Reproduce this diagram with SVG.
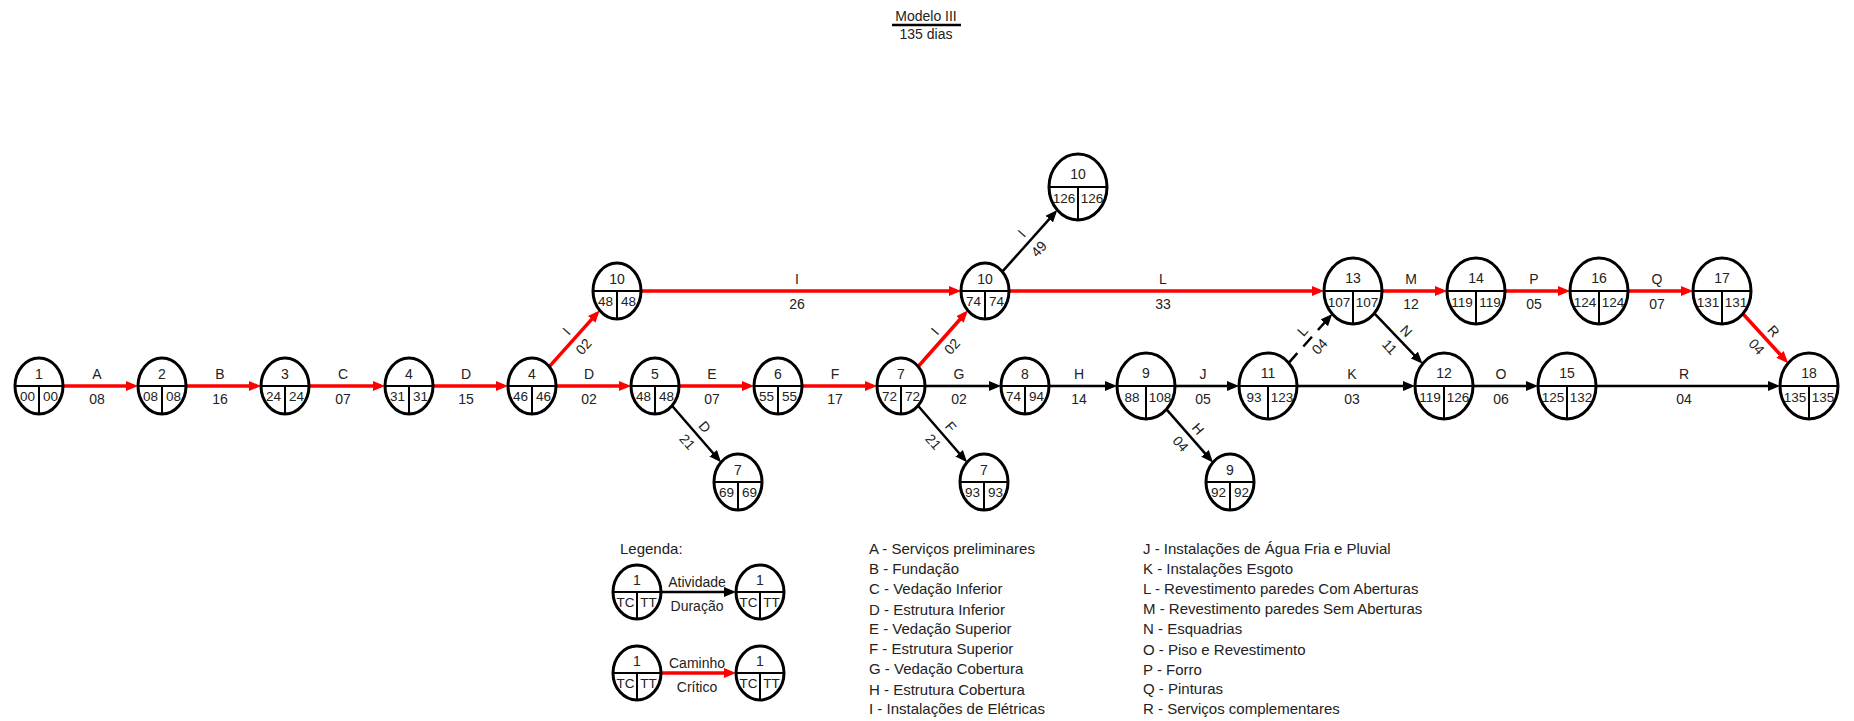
<svg xmlns="http://www.w3.org/2000/svg" width="1854" height="721" viewBox="0 0 1854 721">
  <defs>
    <style>
      text { font-family: "Liberation Sans", Arial, sans-serif; fill: #222; }
      .node ellipse { fill: #fff; stroke: #000; stroke-width: 3; }
      .node line { stroke: #000; stroke-width: 2; }
      .node .id { font-size: 14px; text-anchor: middle; }
      .node .tt { font-size: 13.5px; text-anchor: middle; }
      .red { stroke: #ff0000; stroke-width: 3.5; fill: none; marker-end: url(#arR); }
      .blk { stroke: #000; stroke-width: 2.5; fill: none; marker-end: url(#arK); }
      .dash { stroke-dasharray: 13 9; }
      .lbl { font-size: 14px; text-anchor: middle; }
      .leg { font-size: 15px; }
      .title { font-size: 14px; text-anchor: middle; }
    </style>
    <marker id="arR" viewBox="0 0 12 10" markerUnits="userSpaceOnUse" markerWidth="12" markerHeight="10" refX="8" refY="5" orient="auto">
      <path d="M0,0 L12,5 L0,10 z" fill="#ff0000"/>
    </marker>
    <marker id="arK" viewBox="0 0 12 10" markerUnits="userSpaceOnUse" markerWidth="12" markerHeight="10" refX="8" refY="5" orient="auto">
      <path d="M0,0 L12,5 L0,10 z" fill="#000"/>
    </marker>
  </defs>

  <rect width="1854" height="721" fill="#fff"/>

  <!-- heading -->
  <g id="title">
    <text class="title" x="926" y="21">Modelo III</text>
    <line x1="892" y1="25" x2="961" y2="25" stroke="#000" stroke-width="2.5"/>
    <text class="title" x="926" y="39">135 dias</text>
  </g>

  <!-- activity arrows -->
  <g id="connectors">
    <!-- main row, y = 386 -->
    <path class="red" d="M63,386 H134"/>
    <path class="red" d="M186,386 H257"/>
    <path class="red" d="M309,386 H381"/>
    <path class="red" d="M433,386 H504"/>
    <path class="red" d="M556,386 H627"/>
    <path class="red" d="M679,386 H750"/>
    <path class="red" d="M802,386 H873"/>
    <path class="blk" d="M925,386 H997"/>
    <path class="blk" d="M1049,386 H1113"/>
    <path class="blk" d="M1175,386 H1235"/>
    <path class="blk" d="M1297,386 H1411"/>
    <path class="blk" d="M1473,386 H1534"/>
    <path class="blk" d="M1596,386 H1776"/>
    <!-- upper row, y = 291 -->
    <path class="red" d="M641,291 H957"/>
    <path class="red" d="M1009,291 H1320"/>
    <path class="red" d="M1382,291 H1443"/>
    <path class="red" d="M1505,291 H1566"/>
    <path class="red" d="M1628,291 H1689"/>
    <!-- diagonals -->
    <path class="red" d="M549.3,366.6 L597.0,313.4"/>
    <path class="blk" d="M672,405.7 L718.4,459.3"/>
    <path class="red" d="M918.2,366.5 L965.2,313.5"/>
    <path class="blk" d="M918,405.7 L964.4,459.3"/>
    <path class="blk" d="M1166.5,409.4 L1210.3,459.4"/>
    <path class="blk" d="M1002.3,271.6 L1054.6,213.1"/>
    <path class="blk dash" d="M1288.7,362.9 L1329.6,316.9"/>
    <path class="blk" d="M1374.4,313.3 L1419.8,360.8"/>
    <path class="red" d="M1742.9,313.8 L1785.4,360.2"/>

    <!-- labels: activity above, duration below -->
    <g class="lbl">
      <text x="97" y="379">A</text><text x="97" y="404">08</text>
      <text x="220" y="379">B</text><text x="220" y="404">16</text>
      <text x="343" y="379">C</text><text x="343" y="404">07</text>
      <text x="466" y="379">D</text><text x="466" y="404">15</text>
      <text x="589" y="379">D</text><text x="589" y="404">02</text>
      <text x="712" y="379">E</text><text x="712" y="404">07</text>
      <text x="835" y="379">F</text><text x="835" y="404">17</text>
      <text x="959" y="379">G</text><text x="959" y="404">02</text>
      <text x="1079" y="379">H</text><text x="1079" y="404">14</text>
      <text x="1203" y="379">J</text><text x="1203" y="404">05</text>
      <text x="1352" y="379">K</text><text x="1352" y="404">03</text>
      <text x="1501" y="379">O</text><text x="1501" y="404">06</text>
      <text x="1684" y="379">R</text><text x="1684" y="404">04</text>

      <text x="797" y="284">I</text><text x="797" y="309">26</text>
      <text x="1163" y="284">L</text><text x="1163" y="309">33</text>
      <text x="1411" y="284">M</text><text x="1411" y="309">12</text>
      <text x="1534" y="284">P</text><text x="1534" y="309">05</text>
      <text x="1657" y="284">Q</text><text x="1657" y="309">07</text>

      <g transform="translate(574.5,338.5) rotate(-48.2)"><text x="0" y="-6">I</text><text x="0" y="17">02</text></g>
      <g transform="translate(696.5,434) rotate(49.2)"><text x="0" y="-6">D</text><text x="0" y="17">21</text></g>
      <g transform="translate(943,338.5) rotate(-48.5)"><text x="0" y="-6">I</text><text x="0" y="17">02</text></g>
      <g transform="translate(942.5,434) rotate(49.2)"><text x="0" y="-6">F</text><text x="0" y="17">21</text></g>
      <g transform="translate(1189.7,435.9) rotate(48.8)"><text x="0" y="-6">H</text><text x="0" y="17">04</text></g>
      <g transform="translate(1029.8,240.9) rotate(-48.2)"><text x="0" y="-6">I</text><text x="0" y="17">49</text></g>
      <g transform="translate(1310.5,338.4) rotate(-48.2)"><text x="0" y="-6">L</text><text x="0" y="17">04</text></g>
      <g transform="translate(1398.5,338.5) rotate(46.2)"><text x="0" y="-6">N</text><text x="0" y="17">11</text></g>
      <g transform="translate(1765.5,338.5) rotate(47.5)"><text x="0" y="-6">R</text><text x="0" y="17">04</text></g>
    </g>
  </g>

  <!-- events: number on top, TC | TT below -->
  <g id="n1" class="node" transform="translate(39,386)"><ellipse rx="24" ry="28"/><line x1="-24" y1="0" x2="24" y2="0"/><line x1="0" y1="0" x2="0" y2="28"/><text class="id" y="-7">1</text><text class="tt" x="-11.5" y="15">00</text><text class="tt" x="11.5" y="15">00</text></g>
  <g id="n2" class="node" transform="translate(162,386)"><ellipse rx="24" ry="28"/><line x1="-24" y1="0" x2="24" y2="0"/><line x1="0" y1="0" x2="0" y2="28"/><text class="id" y="-7">2</text><text class="tt" x="-11.5" y="15">08</text><text class="tt" x="11.5" y="15">08</text></g>
  <g id="n3" class="node" transform="translate(285,386)"><ellipse rx="24" ry="28"/><line x1="-24" y1="0" x2="24" y2="0"/><line x1="0" y1="0" x2="0" y2="28"/><text class="id" y="-7">3</text><text class="tt" x="-11.5" y="15">24</text><text class="tt" x="11.5" y="15">24</text></g>
  <g id="n4" class="node" transform="translate(409,386)"><ellipse rx="24" ry="28"/><line x1="-24" y1="0" x2="24" y2="0"/><line x1="0" y1="0" x2="0" y2="28"/><text class="id" y="-7">4</text><text class="tt" x="-11.5" y="15">31</text><text class="tt" x="11.5" y="15">31</text></g>
  <g id="n4b" class="node" transform="translate(532,386)"><ellipse rx="24" ry="28"/><line x1="-24" y1="0" x2="24" y2="0"/><line x1="0" y1="0" x2="0" y2="28"/><text class="id" y="-7">4</text><text class="tt" x="-11.5" y="15">46</text><text class="tt" x="11.5" y="15">46</text></g>
  <g id="n5" class="node" transform="translate(655,386)"><ellipse rx="24" ry="28"/><line x1="-24" y1="0" x2="24" y2="0"/><line x1="0" y1="0" x2="0" y2="28"/><text class="id" y="-7">5</text><text class="tt" x="-11.5" y="15">48</text><text class="tt" x="11.5" y="15">48</text></g>
  <g id="n6" class="node" transform="translate(778,386)"><ellipse rx="24" ry="28"/><line x1="-24" y1="0" x2="24" y2="0"/><line x1="0" y1="0" x2="0" y2="28"/><text class="id" y="-7">6</text><text class="tt" x="-11.5" y="15">55</text><text class="tt" x="11.5" y="15">55</text></g>
  <g id="n7" class="node" transform="translate(901,386)"><ellipse rx="24" ry="28"/><line x1="-24" y1="0" x2="24" y2="0"/><line x1="0" y1="0" x2="0" y2="28"/><text class="id" y="-7">7</text><text class="tt" x="-11.5" y="15">72</text><text class="tt" x="11.5" y="15">72</text></g>
  <g id="n8" class="node" transform="translate(1025,386)"><ellipse rx="24" ry="28"/><line x1="-24" y1="0" x2="24" y2="0"/><line x1="0" y1="0" x2="0" y2="28"/><text class="id" y="-7">8</text><text class="tt" x="-11.5" y="15">74</text><text class="tt" x="11.5" y="15">94</text></g>
  <g id="n9" class="node" transform="translate(1146,386)"><ellipse rx="29" ry="33"/><line x1="-29" y1="0" x2="29" y2="0"/><line x1="0" y1="0" x2="0" y2="33"/><text class="id" y="-8">9</text><text class="tt" x="-14" y="16">88</text><text class="tt" x="14" y="16">108</text></g>
  <g id="n11" class="node" transform="translate(1268,386)"><ellipse rx="29" ry="33"/><line x1="-29" y1="0" x2="29" y2="0"/><line x1="0" y1="0" x2="0" y2="33"/><text class="id" y="-8">11</text><text class="tt" x="-14" y="16">93</text><text class="tt" x="14" y="16">123</text></g>
  <g id="n12" class="node" transform="translate(1444,386)"><ellipse rx="29" ry="33"/><line x1="-29" y1="0" x2="29" y2="0"/><line x1="0" y1="0" x2="0" y2="33"/><text class="id" y="-8">12</text><text class="tt" x="-14" y="16">119</text><text class="tt" x="14" y="16">126</text></g>
  <g id="n15" class="node" transform="translate(1567,386)"><ellipse rx="29" ry="33"/><line x1="-29" y1="0" x2="29" y2="0"/><line x1="0" y1="0" x2="0" y2="33"/><text class="id" y="-8">15</text><text class="tt" x="-14" y="16">125</text><text class="tt" x="14" y="16">132</text></g>
  <g id="n18" class="node" transform="translate(1809,386)"><ellipse rx="29" ry="33"/><line x1="-29" y1="0" x2="29" y2="0"/><line x1="0" y1="0" x2="0" y2="33"/><text class="id" y="-8">18</text><text class="tt" x="-14" y="16">135</text><text class="tt" x="14" y="16">135</text></g>

  <g id="n10a" class="node" transform="translate(617,291)"><ellipse rx="24" ry="28"/><line x1="-24" y1="0" x2="24" y2="0"/><line x1="0" y1="0" x2="0" y2="28"/><text class="id" y="-7">10</text><text class="tt" x="-11.5" y="15">48</text><text class="tt" x="11.5" y="15">48</text></g>
  <g id="n10b" class="node" transform="translate(985,291)"><ellipse rx="24" ry="28"/><line x1="-24" y1="0" x2="24" y2="0"/><line x1="0" y1="0" x2="0" y2="28"/><text class="id" y="-7">10</text><text class="tt" x="-11.5" y="15">74</text><text class="tt" x="11.5" y="15">74</text></g>
  <g id="n13" class="node" transform="translate(1353,291)"><ellipse rx="29" ry="33"/><line x1="-29" y1="0" x2="29" y2="0"/><line x1="0" y1="0" x2="0" y2="33"/><text class="id" y="-8">13</text><text class="tt" x="-14" y="16">107</text><text class="tt" x="14" y="16">107</text></g>
  <g id="n14" class="node" transform="translate(1476,291)"><ellipse rx="29" ry="33"/><line x1="-29" y1="0" x2="29" y2="0"/><line x1="0" y1="0" x2="0" y2="33"/><text class="id" y="-8">14</text><text class="tt" x="-14" y="16">119</text><text class="tt" x="14" y="16">119</text></g>
  <g id="n16" class="node" transform="translate(1599,291)"><ellipse rx="29" ry="33"/><line x1="-29" y1="0" x2="29" y2="0"/><line x1="0" y1="0" x2="0" y2="33"/><text class="id" y="-8">16</text><text class="tt" x="-14" y="16">124</text><text class="tt" x="14" y="16">124</text></g>
  <g id="n17" class="node" transform="translate(1722,291)"><ellipse rx="29" ry="33"/><line x1="-29" y1="0" x2="29" y2="0"/><line x1="0" y1="0" x2="0" y2="33"/><text class="id" y="-8">17</text><text class="tt" x="-14" y="16">131</text><text class="tt" x="14" y="16">131</text></g>
  <g id="n10c" class="node" transform="translate(1078,187)"><ellipse rx="29" ry="33"/><line x1="-29" y1="0" x2="29" y2="0"/><line x1="0" y1="0" x2="0" y2="33"/><text class="id" y="-8">10</text><text class="tt" x="-14" y="16">126</text><text class="tt" x="14" y="16">126</text></g>

  <g id="n7a" class="node" transform="translate(738,482)"><ellipse rx="24" ry="28"/><line x1="-24" y1="0" x2="24" y2="0"/><line x1="0" y1="0" x2="0" y2="28"/><text class="id" y="-7">7</text><text class="tt" x="-11.5" y="15">69</text><text class="tt" x="11.5" y="15">69</text></g>
  <g id="n7b" class="node" transform="translate(984,482)"><ellipse rx="24" ry="28"/><line x1="-24" y1="0" x2="24" y2="0"/><line x1="0" y1="0" x2="0" y2="28"/><text class="id" y="-7">7</text><text class="tt" x="-11.5" y="15">93</text><text class="tt" x="11.5" y="15">93</text></g>
  <g id="n9b" class="node" transform="translate(1230,482)"><ellipse rx="24" ry="28"/><line x1="-24" y1="0" x2="24" y2="0"/><line x1="0" y1="0" x2="0" y2="28"/><text class="id" y="-7">9</text><text class="tt" x="-11.5" y="15">92</text><text class="tt" x="11.5" y="15">92</text></g>

  <!-- key -->
  <g id="legend">
    <text class="leg" x="620" y="554">Legenda:</text>
    <path class="blk" d="M661,592 H732"/>
    <text class="lbl" x="697" y="587">Atividade</text>
    <text class="lbl" x="697" y="611">Duração</text>
    <path class="red" d="M661,673 H732"/>
    <text class="lbl" x="697" y="668">Caminho</text>
    <text class="lbl" x="697" y="692">Crítico</text>
    <g id="lg1" class="node" transform="translate(637,592)"><ellipse rx="24" ry="27"/><line x1="-24" y1="0" x2="24" y2="0"/><line x1="0" y1="0" x2="0" y2="27"/><text class="id" y="-7">1</text><text class="tt" x="-11.5" y="15">TC</text><text class="tt" x="11.5" y="15">TT</text></g>
    <g id="lg2" class="node" transform="translate(760,592)"><ellipse rx="24" ry="27"/><line x1="-24" y1="0" x2="24" y2="0"/><line x1="0" y1="0" x2="0" y2="27"/><text class="id" y="-7">1</text><text class="tt" x="-11.5" y="15">TC</text><text class="tt" x="11.5" y="15">TT</text></g>
    <g id="lg3" class="node" transform="translate(637,673)"><ellipse rx="24" ry="27"/><line x1="-24" y1="0" x2="24" y2="0"/><line x1="0" y1="0" x2="0" y2="27"/><text class="id" y="-7">1</text><text class="tt" x="-11.5" y="15">TC</text><text class="tt" x="11.5" y="15">TT</text></g>
    <g id="lg4" class="node" transform="translate(760,673)"><ellipse rx="24" ry="27"/><line x1="-24" y1="0" x2="24" y2="0"/><line x1="0" y1="0" x2="0" y2="27"/><text class="id" y="-7">1</text><text class="tt" x="-11.5" y="15">TC</text><text class="tt" x="11.5" y="15">TT</text></g>

    <g class="leg">
      <text x="869" y="554">A - Serviços preliminares</text>
      <text x="869" y="574">B - Fundação</text>
      <text x="869" y="594">C - Vedação Inferior</text>
      <text x="869" y="615">D - Estrutura Inferior</text>
      <text x="869" y="634">E - Vedação Superior</text>
      <text x="869" y="654">F - Estrutura Superior</text>
      <text x="869" y="674">G - Vedação Cobertura</text>
      <text x="869" y="695">H - Estrutura Cobertura</text>
      <text x="869" y="714">I - Instalações de Elétricas</text>

      <text x="1143" y="554">J - Instalações de Água Fria e Pluvial</text>
      <text x="1143" y="574">K - Instalações Esgoto</text>
      <text x="1143" y="594">L - Revestimento paredes Com Aberturas</text>
      <text x="1143" y="614">M - Revestimento paredes Sem Aberturas</text>
      <text x="1143" y="634">N - Esquadrias</text>
      <text x="1143" y="655">O - Piso e Revestimento</text>
      <text x="1143" y="675">P - Forro</text>
      <text x="1143" y="694">Q - Pinturas</text>
      <text x="1143" y="714">R - Serviços complementares</text>
    </g>
  </g>
</svg>
